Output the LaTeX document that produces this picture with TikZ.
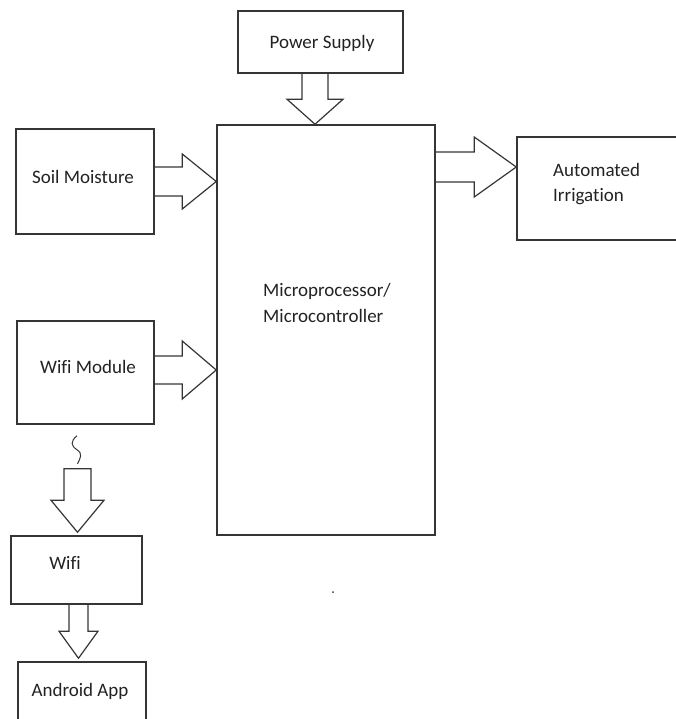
\documentclass[tikz,border=0pt]{standalone}
\usepackage{fontspec}
\setmainfont[Ligatures=NoCommon]{Carlito}
\usetikzlibrary{calc}
\definecolor{linec}{HTML}{353535}
\definecolor{textc}{HTML}{222222}
\tikzset{
  box/.style={draw=linec, line width=1.5pt, inner sep=0pt, minimum width=#1},
  boxh/.style={minimum height=#1},
  lbl/.style={text=textc, inner sep=0pt, font=\fontsize{19}{26}\selectfont},
  blk/.style={draw=linec, line width=1.2pt, line join=miter}
}
% horizontal block arrow: #1 start, #2 tip, #3 half shaft, #4 half head, #5 head length
\newcommand\hblock[5]{%
  \draw[blk] let \p1=#1, \p2=#2 in
    (\x1,\y2+#3pt) -- (\x2-#5pt,\y2+#3pt) -- (\x2-#5pt,\y2+#4pt) -- (\x2,\y2)
    -- (\x2-#5pt,\y2-#4pt) -- (\x2-#5pt,\y2-#3pt) -- (\x1,\y2-#3pt);}
% vertical (downward) block arrow, #6 extra path end
\newcommand\vblock[6]{%
  \draw[blk] let \p1=#1, \p2=#2 in
    (\x2+#3pt,\y1) -- (\x2+#3pt,\y2+#5pt) -- (\x2+#4pt,\y2+#5pt) -- (\x2,\y2)
    -- (\x2-#4pt,\y2+#5pt) -- (\x2-#3pt,\y2+#5pt) -- (\x2-#3pt,\y1) #6;}
\begin{document}
\begin{tikzpicture}[x=1pt,y=-1pt]
\useasboundingbox (0,0) rectangle (675,719);
% boxes
\node[box=165pt, boxh=62pt]  (power) at (320.5,42) {};
\node[box=218pt, boxh=410pt] (micro) at (326,330) {};
\node[box=138pt, boxh=105pt] (soil)  at (85,181.5) {};
\node[box=165pt, boxh=103pt] (auto)  at (599.5,188.5) {};
\node[box=137pt, boxh=103pt] (wmod)  at (85.5,372.5) {};
\node[box=131pt, boxh=68pt]  (wifi)  at (76.5,570) {};
\node[box=128pt, boxh=64pt]  (andr)  at (82,694) {};
% labels
\node[lbl] (powerT) at (322,43) {Power Supply};
\node[lbl, anchor=west, align=left] (microT) at (263,303) {Microprocessor/\\Microcontroller};
\node[lbl] (soilT) at (83,177) {Soil Moisture};
\node[lbl, anchor=west, align=left, font=\fontsize{19}{25}\selectfont] (autoT) at (553,184.5) {Automated\\Irrigation};
\node[lbl] (wmodT) at (88,367) {Wifi Module};
\node[lbl] (wifiT) at (65,563) {Wifi};
\node[lbl] (andrT) at (80,691) {Android App};
% arrow end points
\coordinate (ptip) at ($(micro.north)+(-11,0)$);
\coordinate (stip) at (soil.east -| micro.west);
\coordinate (atip) at ($(auto.west)+(0,-21.5)$);
\coordinate (w0) at ($(wmod.east)+(0,-2.5)$);
\coordinate (wtip) at (w0 -| micro.west);
\coordinate (sq0) at ($(wmod.south)+(-8.5,11)$);
\coordinate (sq1) at ($(wmod.south)+(-8,39)$);
\coordinate (d0) at ($(wmod.south)+(-8,44)$);
\coordinate (dtip) at ($(wifi.north)+(1,-3)$);
\coordinate (etip) at ($(andr.north)+(-3.5,-3)$);
% block arrows
\vblock{(power.south)}{(ptip)}{13}{28}{25}{}
\hblock{(soil.east)}{(stip)}{14.5}{27.5}{34}
\hblock{(micro.east)}{(atip)}{15}{30}{42}
\hblock{(w0)}{(wtip)}{14}{29}{34}
\vblock{(d0)}{(dtip)}{13.5}{26.5}{32}{-- cycle}
\vblock{(wifi.south)}{(etip)}{9.5}{19.5}{27}{}
% wireless squiggle
\draw[draw=linec, line width=1pt] (sq0) .. controls ($(sq0)+(-7,6)$) and ($(sq0)+(-6,10)$) .. ($(sq0)+(0,14)$)
  .. controls ($(sq0)+(6,18)$) and ($(sq1)+(3,-6)$) .. (sq1);
% stray dot
\fill[linec] (333,592) circle (1pt);
\end{tikzpicture}
\end{document}
